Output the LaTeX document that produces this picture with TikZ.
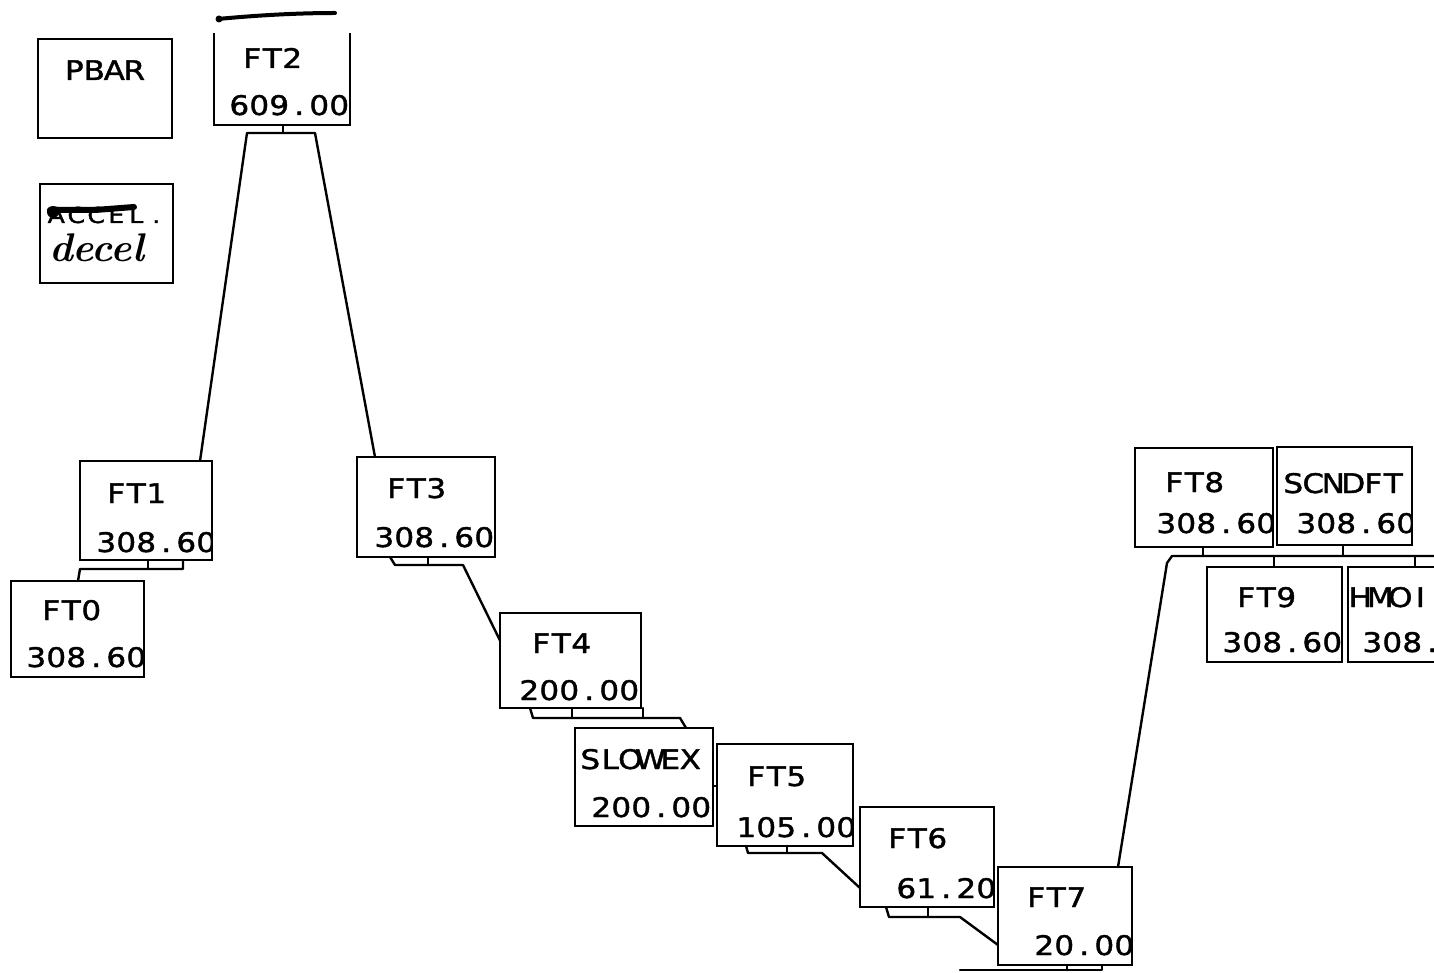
\documentclass[tikz,border=0pt]{standalone}
\usepackage{fontspec}
\newfontfamily\plotfont[FakeStretch=1.15,FakeBold=1.5]{DejaVu Sans}
\usetikzlibrary{fit,calc}
\newlength\cellw
\setlength\cellw{20pt}
\def\monoloop#1{\ifx\relax#1\else\makebox[\cellw][c]{#1}\expandafter\monoloop\fi}
\newcommand\mono[1]{\monoloop#1\relax}
\newcommand\ftbox[7]{%
  \node[box, fit={(#2) (#3)}] (#1) {};
  \node[lab] (#1-name) at (#4) {\mono{#5}};
  \begin{scope}
    \clip (#1.south west) rectangle (#1.north east);
    \node[lab] (#1-val) at (#6) {\mono{#7}};
  \end{scope}}
\begin{document}
\begin{tikzpicture}[x=1pt,y=-1pt,line width=2.6pt,
  box/.style={draw, rectangle, inner sep=0pt, outer sep=0pt},
  lab/.style={font=\plotfont\fontsize{27}{30}\selectfont, inner sep=0pt, anchor=base west},
  wire/.style={line width=2.4pt, line join=round, line cap=round},
  hand/.style={line width=4pt, line cap=round, line join=round}]
\useasboundingbox (0,0) rectangle (1434,973);
\clip (0,0) rectangle (1434,973);

% free ends
\coordinate (ft7-tail) at (960,970);
\coordinate (bus-end) at (1445,556);

% PBAR
\node[box, fit={(38,39) (172,138)}] (PBAR) {};
\node[lab] (PBAR-name) at (63,80) {\mono{PBAR}};

% hand-edited box
\node[box, fit={(40,184) (173,283)}] (DECEL) {};
\node[font=\plotfont\fontsize{22}{24}\selectfont, inner sep=0pt, anchor=base west] (accel) at (45,223) {\mono{ACCEL.}};
\draw[line width=6pt, line cap=round] (50,210) -- (95,210) -- (134,207);
\fill (53,212) circle (6);
\node[font=\bfseries\itshape\fontsize{40}{44}\selectfont, inner sep=0pt, anchor=base west] (decel) at (48,262) {decel};

% FT2 (open top)
\node[fit={(214,33) (350,125)}, inner sep=0pt, outer sep=0pt] (FT2) {};
\draw (FT2.north west) -- (FT2.south west) -- (FT2.south east) -- (FT2.north east);
\node[lab] (FT2-name) at (241,68) {\mono{FT2}};
\begin{scope}
  \clip (FT2.south west) rectangle (FT2.north east);
  \node[lab] (FT2-val) at (228,115) {\mono{609.00}};
\end{scope}
\draw[hand] (218,19) .. controls (260,15) and (300,13) .. (335,13);
\fill (219,19) circle (3.5);

% boxes
\ftbox{FT1}{80,461}{212,560}{105,503}{FT1}{95,552}{308.60}
\ftbox{FT0}{11,581}{144,677}{40,620}{FT0}{25,667}{308.60}
\ftbox{FT3}{357,457}{495,557}{385,498}{FT3}{373,547}{308.60}
\ftbox{FT4}{500,613}{641,708}{530,653}{FT4}{518,700}{200.00}
\ftbox{SLOWEX}{575,728}{713,826}{579,769}{SLOWEX}{590,817}{200.00}
\ftbox{FT5}{717,744}{853,846}{745,786}{FT5}{735,837}{105.00}
\ftbox{FT6}{860,807}{994,907}{886,848}{FT6}{895,898}{61.20}
\ftbox{FT7}{998,867}{1132,965}{1025,907}{FT7}{1033,955}{20.00}
\ftbox{FT8}{1135,448}{1273,547}{1163,492}{FT8}{1155,533}{308.60}
\ftbox{SCNDFT}{1277,447}{1412,545}{1282,493}{SCNDFT}{1295,533}{308.60}
\ftbox{FT9}{1207,567}{1342,662}{1235,607}{FT9}{1221,652}{308.60}
\ftbox{HMOI}{1348,567}{1500,662}{1349,607}{HMOI}{1361,652}{308.}

% FT2 tree
\draw[wire] ([xshift=69pt]FT2.south west) -- ++(0,8);
\draw[wire] ([xshift=-12pt]FT1.north east) -- (247,133) -- (315,133) -- ([xshift=18pt]FT3.north west);

% FT1 -> FT0
\draw[wire] ([xshift=68pt]FT1.south west) -- ++(0,9);
\draw[wire] ([xshift=103pt]FT1.south west) -- (183,569) -- (80,569) -- ([xshift=67pt]FT0.north west);

% FT3 -> FT4
\draw[wire] ([xshift=71pt]FT3.south west) -- ++(0,8);
\draw[wire] ([xshift=33pt]FT3.south west) -- (395,565) -- (463,565) -- ([yshift=20pt]FT4.west);

% FT4 -> SLOWEX
\draw[wire] ([xshift=30pt]FT4.south west) -- (533,718) -- (680,718) -- ([xshift=111pt]SLOWEX.north west);
\draw[wire] ([xshift=72pt]FT4.south west) -- ++(0,10);
\draw[wire] ([xshift=2pt]FT4.south east) -- ++(0,10);

% SLOWEX -> FT5
\draw[wire] ([yshift=-9pt]SLOWEX.east) -- ([yshift=9pt]FT5.west);

% FT5 -> FT6
\draw[wire] ([xshift=29pt]FT5.south west) -- (748,853) -- (822,853) -- ([yshift=-31pt]FT6.west);
\draw[wire] ([xshift=70pt]FT5.south west) -- ++(0,7);

% FT6 -> FT7
\draw[wire] ([xshift=26pt]FT6.south west) -- (889,917) -- (960,917) -- ([yshift=-29pt]FT7.west);
\draw[wire] ([xshift=68pt]FT6.south west) -- ++(0,10);

% FT7 bottom
\draw[wire] (ft7-tail) -- (1102,970) -- ([xshift=104pt]FT7.south west);
\draw[wire] ([xshift=69pt]FT7.south west) -- ++(0,5);

% FT7 -> FT8 bus
\draw[wire] ([xshift=-14pt]FT7.north east) -- (1167,563) -- (1172,556) -- (bus-end);
\draw[wire] ([xshift=68pt]FT8.south west) -- ++(0,9);
\draw[wire] ([xshift=66pt]SCNDFT.south west) -- ++(0,11);
\draw[wire] ([xshift=67pt]FT9.north west) -- ++(0,-11);
\draw[wire] ([xshift=67pt]HMOI.north west) -- ++(0,-11);
\end{tikzpicture}
\end{document}
